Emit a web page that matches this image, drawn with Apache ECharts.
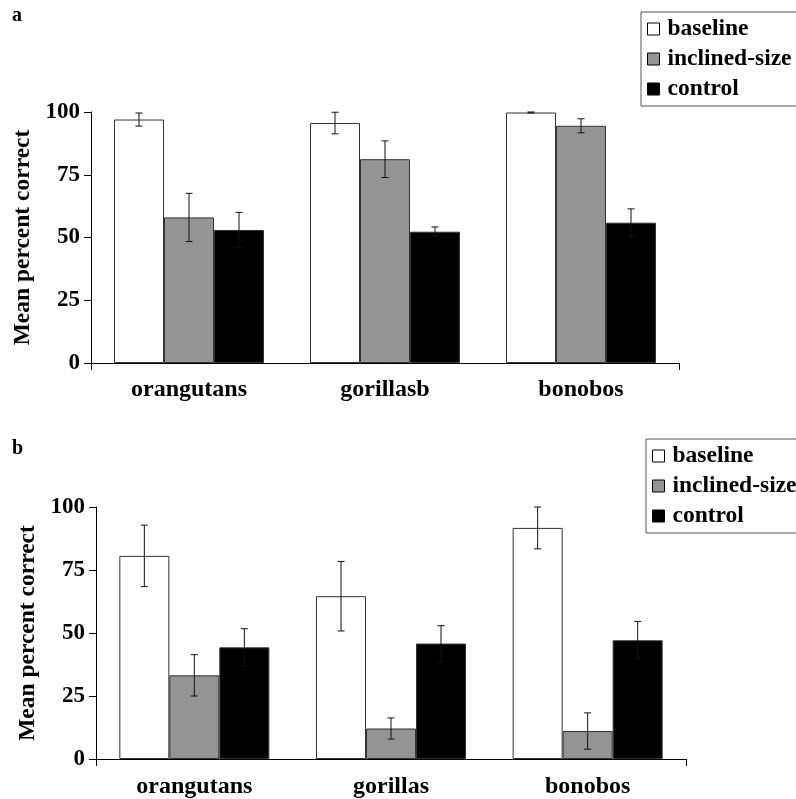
<!DOCTYPE html>
<html>
<head>
	<meta charset="UTF-8">
	<title>Mean percent correct</title>
	<style>
		html, body { margin: 0; padding: 0; background: #fff; }
		#main { width: 796px; height: 799px; }
	</style>
</head>
<body>
	<div id="main"></div>
	<script type="text/javascript" src="https://cdn.jsdelivr.net/npm/echarts@6/dist/echarts.min.js"></script>
	<script type="text/javascript">
		// panel a
		var catsA = ['orangutans', 'gorillasb', 'bonobos'];
		var baselineA = [97, 95.6, 99.8];
		var baselineErrA = [2.6, 4.3, 0.2];
		var inclinedA = [58, 81.2, 94.5];
		var inclinedErrA = [9.6, 7.3, 2.8];
		var controlA = [53, 52.3, 55.9];
		var controlErrA = [7, 1.9, 5.5];

		// panel b
		var catsB = ['orangutans', 'gorillas', 'bonobos'];
		var baselineB = [80.6, 64.6, 91.7];
		var baselineErrB = [12.2, 13.8, 8.3];
		var inclinedB = [33.2, 12.1, 11.1];
		var inclinedErrB = [8.2, 4.2, 7.2];
		var controlB = [44.3, 45.8, 47.1];
		var controlErrB = [7.4, 7.1, 7.5];

		var seriesNames = ['baseline', 'inclined-size', 'control'];
		var yTicks = [0, 25, 50, 75, 100];

		var FONT = '"Liberation Serif", "DejaVu Serif", serif';
		var BAR_W = 50;
		var colors = ['#ffffff', '#949494', '#000000'];

		function barSeries(name, idx, data, color) {
			return {
				name: name,
				type: 'bar',
				xAxisIndex: idx,
				yAxisIndex: idx,
				barWidth: BAR_W,
				barGap: '0%',
				data: data,
				itemStyle: { color: color, borderColor: '#333', borderWidth: 1 },
				emphasis: { disabled: true }
			};
		}

		// error bars, drawn over the bar of slot k (0,1,2) in each group
		function errSeries(idx, k, vals, errs) {
			var rows = [];
			for (var i = 0; i < vals.length; i++) {
				rows.push([i, vals[i], errs[i]]);
			}
			return {
				type: 'custom',
				xAxisIndex: idx,
				yAxisIndex: idx,
				z: 10,
				silent: true,
				data: rows,
				encode: { x: 0, y: 1 },
				renderItem: function (params, api) {
					var c = api.value(0), v = api.value(1), e = api.value(2);
					var dx = (k - 1) * BAR_W;
					var top = api.coord([c, v + e]);
					var bot = api.coord([c, v - e]);
					var x = top[0] + dx;
					var hw = 3.5;
					var st = { stroke: '#111', lineWidth: 1, fill: null };
					return {
						type: 'group',
						children: [
							{ type: 'line', shape: { x1: x, y1: top[1], x2: x, y2: bot[1] }, style: st },
							{ type: 'line', shape: { x1: x - hw, y1: top[1], x2: x + hw, y2: top[1] }, style: st },
							{ type: 'line', shape: { x1: x - hw, y1: bot[1], x2: x + hw, y2: bot[1] }, style: st }
						]
					};
				}
			};
		}

		function xAx(idx, cats, margin) {
			return {
				type: 'category',
				gridIndex: idx,
				data: cats,
				axisLine: { lineStyle: { color: '#000', width: 1 } },
				axisTick: {
					show: true, length: 7,
					interval: function (i) { return i === 0; },
					lineStyle: { color: '#000' }
				},
				axisLabel: { color: '#000', fontFamily: FONT, fontWeight: 'bold', fontSize: 24, margin: margin }
			};
		}

		function yAx(idx) {
			return {
				type: 'value',
				gridIndex: idx,
				min: yTicks[0],
				max: yTicks[yTicks.length - 1],
				interval: 25,
				name: 'Mean percent correct',
				nameLocation: 'middle',
				nameGap: 55,
				nameTextStyle: { color: '#000', fontFamily: FONT, fontWeight: 'bold', fontSize: 23.5 },
				axisLine: { show: true, lineStyle: { color: '#000', width: 1 } },
				axisTick: { show: true, length: 7, lineStyle: { color: '#000' } },
				axisLabel: { color: '#000', fontFamily: FONT, fontWeight: 'bold', fontSize: 23, margin: 11 },
				splitLine: { show: false }
			};
		}

		function legendAt(left, top) {
			return {
				orient: 'vertical',
				left: left,
				top: top,
				data: seriesNames,
				selectedMode: false,
				icon: 'rect',
				itemWidth: 12,
				itemHeight: 12,
				itemGap: 6,
				padding: [5, 20, 5, 6],
				borderColor: '#555',
				borderWidth: 1,
				backgroundColor: '#fff',
				itemStyle: { borderColor: '#000', borderWidth: 1 },
				textStyle: { color: '#000', fontFamily: FONT, fontWeight: 'bold', fontSize: 23.5, padding: [0, 0, 0, 3] }
			};
		}

		var myChart = echarts.init(document.getElementById('main'), null, { renderer: 'canvas' });
		var option = {
			backgroundColor: '#fff',
			animation: false,
			title: [
				{ text: 'a', left: 12, top: 6, padding: 0, textStyle: { color: '#000', fontFamily: FONT, fontWeight: 'bold', fontSize: 20 } },
				{ text: 'b', left: 12, top: 439, padding: 0, textStyle: { color: '#000', fontFamily: FONT, fontWeight: 'bold', fontSize: 20 } }
			],
			legend: [legendAt(641, 12), legendAt(646, 439)],
			grid: [
				{ left: 91, right: 117, top: 112, bottom: 436 },
				{ left: 96, right: 110, top: 507, bottom: 40 }
			],
			xAxis: [xAx(0, catsA, 15), xAx(1, catsB, 16)],
			yAxis: [yAx(0), yAx(1)],
			series: [
				barSeries('baseline', 0, baselineA, colors[0]),
				barSeries('inclined-size', 0, inclinedA, colors[1]),
				barSeries('control', 0, controlA, colors[2]),
				barSeries('baseline', 1, baselineB, colors[0]),
				barSeries('inclined-size', 1, inclinedB, colors[1]),
				barSeries('control', 1, controlB, colors[2]),
				errSeries(0, 0, baselineA, baselineErrA),
				errSeries(0, 1, inclinedA, inclinedErrA),
				errSeries(0, 2, controlA, controlErrA),
				errSeries(1, 0, baselineB, baselineErrB),
				errSeries(1, 1, inclinedB, inclinedErrB),
				errSeries(1, 2, controlB, controlErrB)
			]
		};
		myChart.setOption(option);
	</script>
</body>
</html>
